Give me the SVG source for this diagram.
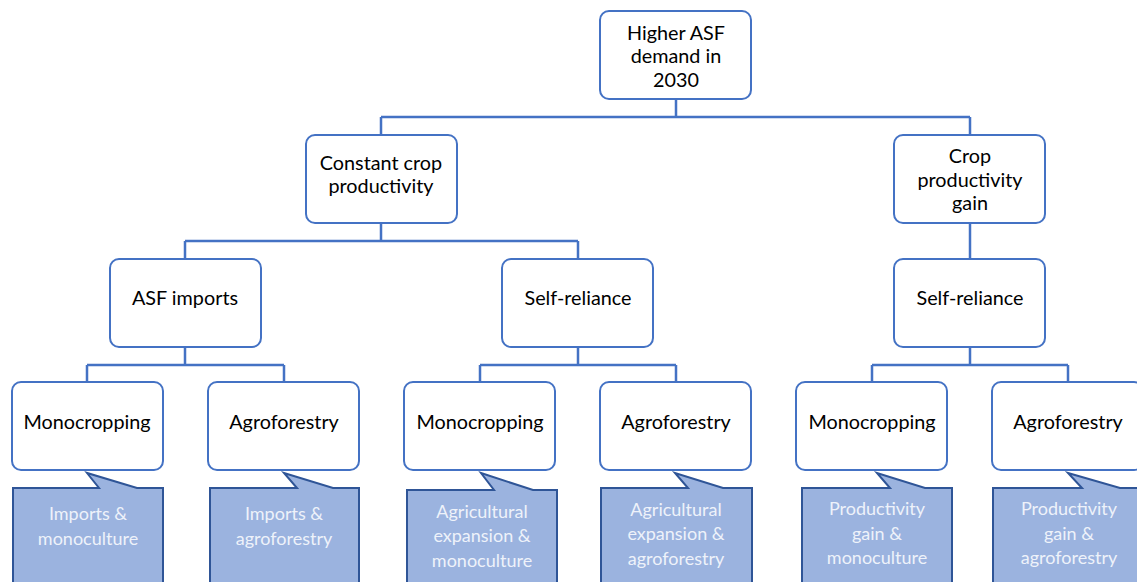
<svg xmlns="http://www.w3.org/2000/svg" width="1137" height="582" viewBox="0 0 1137 582">
<style>
.node rect{fill:#fff;stroke:#4472C4;stroke-width:2}
.node text{font-family:Lato,"Liberation Sans",sans-serif;font-size:19.8px;fill:#000;text-anchor:middle}
.call path{fill:#9BB3DF;stroke:#2F5597;stroke-width:2}
.call text{font-family:Lato,"Liberation Sans",sans-serif;font-size:18px;fill:#EEF2FA;text-anchor:middle}
#connectors path{fill:none;stroke:#4472C4;stroke-width:2.5}
</style>
<rect width="1137" height="582" fill="#fff"/>
<g id="connectors">
<path d="M676 100V117M381 117H970M381 117V135M970 117V135"/>
<path d="M381 223V241M185 241H578M185 241V259M578 241V259"/>
<path d="M970 223V259"/>
<path d="M185 347V365M87 365H284M87 365V382M284 365V382"/>
<path d="M578 347V365M480 365H676M480 365V382M676 365V382"/>
<path d="M970 347V365M872 365H1068M872 365V382M1068 365V382"/>
</g>
<g id="n-top" class="node"><rect x="600" y="11" width="151" height="88" rx="9"/><text x="676" y="40">Higher ASF</text><text x="676" y="63">demand in</text><text x="676" y="87">2030</text></g>
<g id="n-constant" class="node"><rect x="306" y="135" width="151" height="88" rx="9"/><text x="381" y="170">Constant crop</text><text x="381" y="193">productivity</text></g>
<g id="n-gain" class="node"><rect x="894" y="135" width="151" height="88" rx="9"/><text x="970" y="163">Crop</text><text x="970" y="187">productivity</text><text x="970" y="210">gain</text></g>
<g id="n-imports" class="node"><rect x="110" y="259" width="151" height="88" rx="9"/><text x="185" y="305">ASF imports</text></g>
<g id="n-self1" class="node"><rect x="502" y="259" width="151" height="88" rx="9"/><text x="578" y="305">Self-reliance</text></g>
<g id="n-self2" class="node"><rect x="894" y="259" width="151" height="88" rx="9"/><text x="970" y="305">Self-reliance</text></g>
<g id="n-mono1" class="node"><rect x="12" y="382" width="151" height="88" rx="9"/><text x="87" y="429">Monocropping</text></g>
<g id="n-agro1" class="node"><rect x="208" y="382" width="151" height="88" rx="9"/><text x="284" y="429">Agroforestry</text></g>
<g id="n-mono2" class="node"><rect x="404" y="382" width="151" height="88" rx="9"/><text x="480" y="429">Monocropping</text></g>
<g id="n-agro2" class="node"><rect x="600" y="382" width="151" height="88" rx="9"/><text x="676" y="429">Agroforestry</text></g>
<g id="n-mono3" class="node"><rect x="796" y="382" width="151" height="88" rx="9"/><text x="872" y="429">Monocropping</text></g>
<g id="n-agro3" class="node"><rect x="992" y="382" width="151" height="88" rx="9"/><text x="1068" y="429">Agroforestry</text></g>
<g id="c1" class="call"><path d="M13 488H99L87 473L137 488H163V595H13Z"/><text x="88" y="520">Imports &amp;</text><text x="88" y="545">monoculture</text></g>
<g id="c2" class="call"><path d="M210 488H297L284 473L333 488H359V595H210Z"/><text x="284" y="520">Imports &amp;</text><text x="284" y="545">agroforestry</text></g>
<g id="c3" class="call"><path d="M407 490H494L481 473L533 490H557V595H407Z"/><text x="482" y="518">Agricultural</text><text x="482" y="542">expansion &amp;</text><text x="482" y="567">monoculture</text></g>
<g id="c4" class="call"><path d="M601 488H688L675 473L723 488H752V595H601Z"/><text x="676" y="516">Agricultural</text><text x="676" y="540">expansion &amp;</text><text x="676" y="565">agroforestry</text></g>
<g id="c5" class="call"><path d="M802 488H890L877 473L925 488H952V595H802Z"/><text x="877" y="515">Productivity</text><text x="877" y="540">gain &amp;</text><text x="877" y="564">monoculture</text></g>
<g id="c6" class="call"><path d="M993 488H1082L1068 473L1120 488H1150V595H993Z"/><text x="1069" y="515">Productivity</text><text x="1069" y="540">gain &amp;</text><text x="1069" y="564">agroforestry</text></g>
</svg>
